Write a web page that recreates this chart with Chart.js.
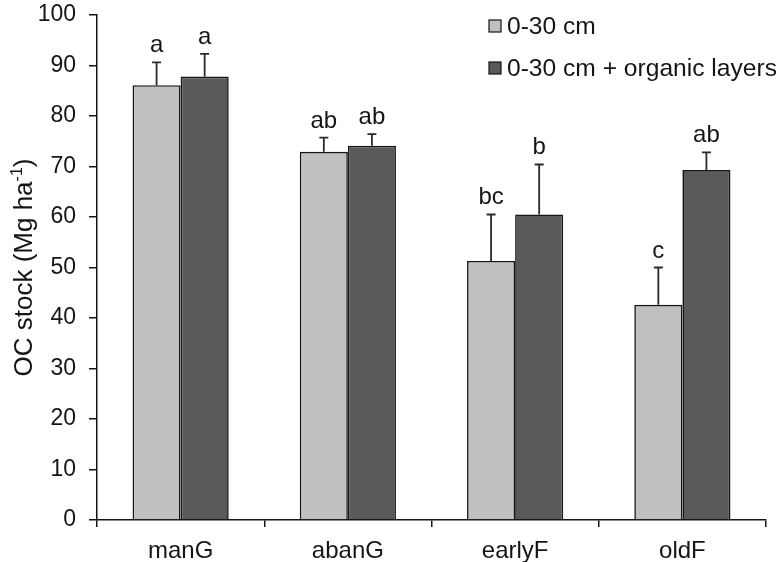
<!DOCTYPE html>
<html>
<head>
<meta charset="utf-8">
<script src="https://cdn.jsdelivr.net/npm/chart.js@4"></script>
<style>
  html, body { margin: 0; padding: 0; background: #fff; }
  #wrap { width: 776px; height: 562px; }
</style>
</head>
<body>
<div id="wrap"><canvas id="chart" width="776" height="562"></canvas></div>
<script>
// Data
const categories = ['manG', 'abanG', 'earlyF', 'oldF'];
const seriesNames = ['0-30 cm', '0-30 cm + organic layers'];
const mineralStock = [86.1, 72.9, 51.3, 42.6];
const totalStock = [87.8, 74.1, 60.5, 69.3];
const mineralErr = [4.5, 2.8, 9.2, 7.4];
const totalErr = [4.5, 2.3, 9.9, 3.5];
const mineralLetters = ['a', 'ab', 'bc', 'c'];
const totalLetters = ['a', 'ab', 'b', 'ab'];
const yTicks = [0, 10, 20, 30, 40, 50, 60, 70, 80, 90, 100];

const INK = '#151515';
const FONT = "'Liberation Sans', Arial, sans-serif";
const LIGHT = '#c0c0c0';
const DARK = '#595959';

const errors = [mineralErr, totalErr];
const letters = [mineralLetters, totalLetters];

/**
 * Error bars (upper only) and significance letters
 */
const errorBarPlugin = {
  id: 'errorBars',
  afterDatasetsDraw(chart) {
    const ctx = chart.ctx;
    const y = chart.scales.y;
    ctx.save();
    chart.data.datasets.forEach((ds, di) => {
      const meta = chart.getDatasetMeta(di);
      meta.data.forEach((bar, i) => {
        const top = y.getPixelForValue(ds.data[i] + errors[di][i]);
        ctx.strokeStyle = '#2a2a2a';
        ctx.lineWidth = 1.8;
        ctx.beginPath();
        ctx.moveTo(bar.x, bar.y);
        ctx.lineTo(bar.x, top);
        ctx.moveTo(bar.x - 4.5, top);
        ctx.lineTo(bar.x + 4.5, top);
        ctx.stroke();

        ctx.fillStyle = INK;
        ctx.font = `24px ${FONT}`;
        ctx.textAlign = 'center';
        ctx.textBaseline = 'alphabetic';
        ctx.fillText(letters[di][i], bar.x, top - 10);
      });
    });
    ctx.restore();
  },
};

/**
 * Y axis title with superscript, and the legend
 */
const decorPlugin = {
  id: 'decor',
  afterDraw(chart) {
    const ctx = chart.ctx;
    const area = chart.chartArea;
    ctx.save();

    // axis title
    const parts = [
      { t: 'OC stock (Mg ha', size: 26, rise: 0 },
      { t: '-1', size: 16, rise: 10 },
      { t: ')', size: 26, rise: 0 },
    ];
    let total = 0;
    parts.forEach(p => {
      ctx.font = `${p.size}px ${FONT}`;
      p.w = ctx.measureText(p.t).width;
      total += p.w;
    });
    ctx.translate(32, (area.top + area.bottom) / 2);
    ctx.rotate(-Math.PI / 2);
    ctx.fillStyle = INK;
    ctx.textAlign = 'left';
    ctx.textBaseline = 'alphabetic';
    let x = -total / 2;
    parts.forEach(p => {
      ctx.font = `${p.size}px ${FONT}`;
      ctx.fillText(p.t, x, -p.rise);
      x += p.w;
    });
    ctx.restore();

    // legend
    ctx.save();
    const colors = [LIGHT, DARK];
    seriesNames.forEach((name, i) => {
      const cy = 26 + i * 42;
      ctx.fillStyle = colors[i];
      ctx.fillRect(489, cy - 6, 12, 12);
      ctx.strokeStyle = INK;
      ctx.lineWidth = 1.2;
      ctx.strokeRect(489, cy - 6, 12, 12);
      ctx.fillStyle = INK;
      ctx.font = `24.6px ${FONT}`;
      ctx.textAlign = 'left';
      ctx.textBaseline = 'middle';
      ctx.fillText(name, 507, cy + 1);
    });
    ctx.restore();
  },
};

new Chart(document.getElementById('chart'), {
  type: 'bar',
  data: {
    labels: categories,
    datasets: [
      {
        label: seriesNames[0],
        data: mineralStock,
        backgroundColor: LIGHT,
        borderColor: INK,
        borderWidth: 1.6,
        borderSkipped: 'bottom',
      },
      {
        label: seriesNames[1],
        data: totalStock,
        backgroundColor: DARK,
        borderColor: INK,
        borderWidth: 1.6,
        borderSkipped: 'bottom',
      },
    ],
  },
  options: {
    responsive: false,
    animation: false,
    events: [],
    datasets: {
      bar: { categoryPercentage: 0.575, barPercentage: 1.0 },
    },
    layout: { padding: { top: 15, right: 10, bottom: 0, left: 0 } },
    plugins: {
      legend: { display: false },
      tooltip: { enabled: false },
    },
    scales: {
      x: {
        offset: true,
        afterFit: (scale) => {
          scale.height = 42;
          scale.paddingLeft = 0;
          scale.paddingRight = 0;
        },
        grid: {
          offset: true,
          drawOnChartArea: false,
          drawTicks: true,
          tickLength: 7,
          color: INK,
          lineWidth: 1.5,
        },
        border: { display: true, color: INK, width: 1.5 },
        ticks: {
          color: INK,
          font: { family: FONT, size: 24 },
          padding: 10,
        },
      },
      y: {
        min: 0,
        max: 100,
        afterFit: (scale) => {
          scale.width = 97;
          scale.paddingTop = 0;
          scale.paddingBottom = 0;
        },
        afterBuildTicks: (scale) => { scale.ticks = yTicks.map(v => ({ value: v })); },
        grid: {
          drawOnChartArea: false,
          drawTicks: true,
          tickLength: 8,
          color: INK,
          lineWidth: 1.5,
        },
        border: { display: true, color: INK, width: 1.5 },
        ticks: {
          color: INK,
          font: { family: FONT, size: 23 },
          padding: 13,
        },
      },
    },
  },
  plugins: [errorBarPlugin, decorPlugin],
});
</script>
</body>
</html>
